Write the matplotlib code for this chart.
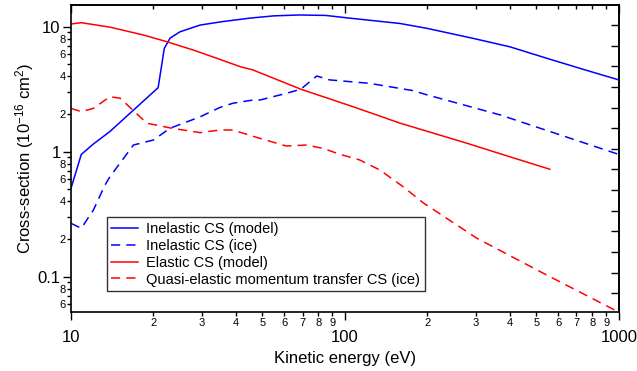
import numpy as np
import matplotlib
matplotlib.use("Agg")
import matplotlib.pyplot as plt
from matplotlib.ticker import FixedLocator, LogLocator, FuncFormatter, NullFormatter, NullLocator

plt.rcParams["font.family"] = ["Liberation Sans", "DejaVu Sans"]
plt.rcParams["mathtext.default"] = "regular"

# Inelastic CS (model)
inel_model_E = [10, 10.9, 12.06, 13.87, 20.8, 21.9, 23.0, 25.0, 29.6, 36, 45, 55, 68, 85,
                104, 159, 199, 293, 400, 545, 750, 1000]
inel_model_cs = [0.51, 0.95, 1.15, 1.45, 3.25, 6.7, 8.1, 9.1, 10.3, 11.0, 11.7, 12.2, 12.4, 12.3,
                 11.7, 10.6, 9.7, 8.07, 6.9, 5.59, 4.52, 3.75]

# Inelastic CS (ice)
inel_ice_E = [10, 10.9, 12.06, 13.3, 13.87, 16.9, 20, 23, 29.6, 35, 39, 46.2, 49, 61.2, 69,
              78.9, 88, 123, 177, 199, 368, 1000]
inel_ice_cs = [0.267, 0.244, 0.34, 0.54, 0.63, 1.13, 1.24, 1.54, 1.9, 2.26, 2.44, 2.59, 2.59,
               2.93, 3.16, 4.03, 3.75, 3.52, 3.08, 2.85, 1.97, 0.95]

# Elastic CS (model)
el_model_E = [10, 10.9, 13.9, 18.35, 22.3, 27.9, 34, 41.4, 46.2, 69, 107, 159, 278, 400, 560]
el_model_cs = [10.5, 10.76, 9.9, 8.58, 7.59, 6.51, 5.59, 4.79, 4.5, 3.16, 2.29, 1.69, 1.17,
               0.91, 0.723]

# Quasi-elastic momentum transfer CS (ice)
qel_ice_E = [10, 10.9, 12.06, 13.87, 15.1, 18.9, 23.3, 29.6, 35, 39, 46, 61, 72.5, 83.4, 95.8,
             113, 134, 163, 193, 303, 515, 1000]
qel_ice_cs = [2.22, 2.09, 2.22, 2.75, 2.68, 1.69, 1.54, 1.42, 1.49, 1.49, 1.33, 1.11, 1.13, 1.06,
              0.953, 0.86, 0.714, 0.525, 0.39, 0.203, 0.11, 0.052]

BLUE, RED = "#0000ff", "#ff0000"

fig = plt.figure(figsize=(6.37, 3.71), dpi=100)
ax = fig.add_axes([0.1115, 0.16, 0.86, 0.8265])

lw = 1.1
ax.plot(inel_model_E, inel_model_cs, color=BLUE, lw=lw, label="Inelastic CS (model)")
ax.plot(inel_ice_E, inel_ice_cs, color=BLUE, lw=lw, dashes=(6, 4), label="Inelastic CS (ice)")
ax.plot(el_model_E, el_model_cs, color=RED, lw=lw, label="Elastic CS (model)")
ax.plot(qel_ice_E, qel_ice_cs, color=RED, lw=lw, dashes=(6, 4),
        label="Quasi-elastic momentum transfer CS (ice)")

ax.set_xscale("log")
ax.set_yscale("log")
ax.set_xlim(10, 1000)
ax.set_ylim(0.0525, 14.9)


def mant(v):
    e = np.floor(np.log10(v) + 1e-9)
    return int(round(v / 10 ** e))


def major_fmt(v, pos):
    return f"{v:g}"


def xminor_fmt(v, pos):
    return str(mant(v))


def yminor_fmt(v, pos):
    m = mant(v)
    return str(m) if m in (2, 4, 6, 8) else ""


for axis in (ax.xaxis, ax.yaxis):
    axis.set_major_locator(LogLocator(base=10, numticks=10))
    axis.set_minor_locator(LogLocator(base=10, subs=np.arange(2, 10), numticks=20))
    axis.set_major_formatter(FuncFormatter(major_fmt))
ax.xaxis.set_minor_formatter(FuncFormatter(xminor_fmt))
ax.yaxis.set_minor_formatter(FuncFormatter(yminor_fmt))

ax.tick_params(axis="x", which="major", direction="out", length=5.5, width=1, pad=8, labelsize=12)
ax.tick_params(axis="x", which="minor", direction="out", length=3, width=1, pad=1.5, labelsize=8)
ax.tick_params(axis="y", which="major", direction="out", length=6, width=1, pad=1.5, labelsize=12)
ax.tick_params(axis="y", which="minor", direction="out", length=3, width=1, pad=1, labelsize=8)

for s in ax.spines.values():
    s.set_linewidth(1.2)

# top axis: inward ticks, no labels
top = ax.secondary_xaxis("top")
top.set_xscale("log")
top.xaxis.set_major_locator(LogLocator(base=10, numticks=10))
top.xaxis.set_minor_locator(LogLocator(base=10, subs=np.arange(2, 10), numticks=20))
top.xaxis.set_major_formatter(NullFormatter())
top.xaxis.set_minor_formatter(NullFormatter())
top.tick_params(which="major", direction="in", length=6, width=1)
top.tick_params(which="minor", direction="in", length=3, width=1)
top.spines["top"].set_linewidth(1.2)

# right axis: evenly spaced inward ticks, no labels
right = ax.secondary_yaxis("right")
right.set_yscale("log")
rticks = 10.32 * 10 ** (-0.1652 * np.arange(14))
right.yaxis.set_major_locator(FixedLocator(rticks))
right.yaxis.set_minor_locator(NullLocator())
right.yaxis.set_major_formatter(NullFormatter())
right.tick_params(which="major", direction="in", length=6, width=1)
right.spines["right"].set_linewidth(1.2)

ax.set_xlabel("Kinetic energy (eV)", fontsize=12, labelpad=4)
ax.set_ylabel("Cross-section (10$^{-16}$ cm$^{2}$)", fontsize=12, labelpad=1)

leg = ax.legend(loc="lower left", bbox_to_anchor=(0.0657, 0.0675), borderaxespad=0,
                fontsize=10.5, frameon=True, fancybox=False, framealpha=1, edgecolor="#333333",
                handlelength=1.8, handletextpad=0.6, labelspacing=0.2, borderpad=0.3)
leg.get_frame().set_linewidth(1.0)

fig.savefig("out.png", dpi=100)
